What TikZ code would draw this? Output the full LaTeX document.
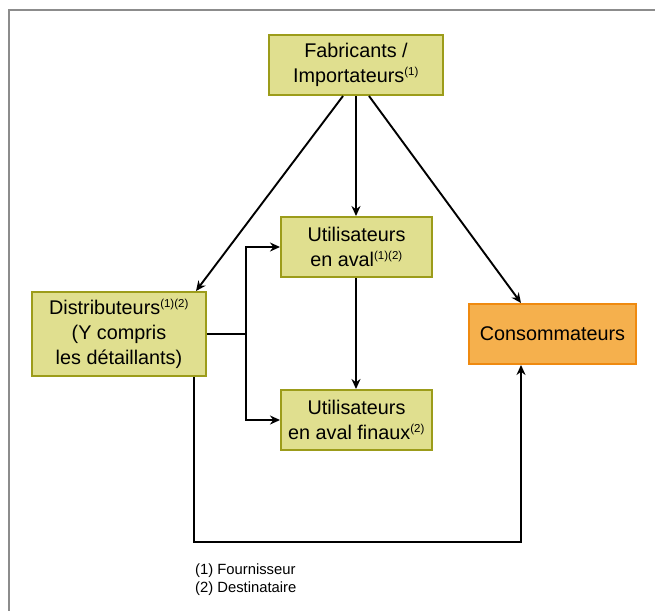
\documentclass[tikz,border=0pt]{standalone}
\usepackage{fontspec}
\setmainfont{Liberation Sans}
\usetikzlibrary{arrows.meta}
\definecolor{boxfill}{HTML}{E0DF8F}
\definecolor{boxline}{HTML}{9C9C1A}
\definecolor{orfill}{HTML}{F5B04D}
\definecolor{orline}{HTML}{EF8A10}
\definecolor{framegray}{HTML}{8C8C8C}
\newcommand{\fn}[1]{\textsuperscript{\fontsize{11.5}{11.5}\selectfont #1}}
\tikzset{
  box/.style={draw=boxline, fill=boxfill, line width=2pt, align=center, inner sep=0pt,
    font=\fontsize{19.8}{25}\selectfont},
  obox/.style={draw=orline, fill=orfill, line width=2pt, align=center, inner sep=0pt,
    font=\fontsize{19.8}{25}\selectfont},
  arr/.style={line width=1.9pt, -{Stealth[length=10pt,width=9pt]}},
  ln/.style={line width=1.9pt},
}
\begin{document}
\begin{tikzpicture}[x=1pt,y=-1pt]
\useasboundingbox (0,0) rectangle (655,610);
\draw[framegray, line width=2.2pt] (9,612) -- (9,10) -- (657,10);
\node[box, minimum width=174pt, minimum height=60pt] (F) at (356,65) {Fabricants /\\Importateurs\fn{(1)}};
\node[box, minimum width=151pt, minimum height=60pt] (U) at (356.5,247) {Utilisateurs\\en aval\fn{(1)(2)}};
\node[box, minimum width=174pt, minimum height=84pt] (D) at (119,334) {Distributeurs\fn{(1)(2)}\\(Y compris\\les détaillants)};
\node[obox, minimum width=167pt, minimum height=60pt] (C) at (552.5,334) {Consommateurs};
\node[box, minimum width=151pt, minimum height=60pt] (UF) at (356.5,420) {Utilisateurs\\en aval finaux\fn{(2)}};
\draw[arr] ([xshift=-13pt]F.south) -- ([xshift=77pt]D.north);
\draw[arr] (F.south) -- ([xshift=-0.5pt]U.north);
\draw[arr] ([xshift=13pt]F.south) -- ([xshift=-31.5pt]C.north);
\draw[arr] ([xshift=-0.5pt]U.south) -- ([xshift=-0.5pt]UF.north);
\draw[ln] (D.east) -- ++(39,0) coordinate (b);
\draw[arr] (b) |- (U.west);
\draw[arr] (b) |- (UF.west);
\draw[arr] ([xshift=75pt]D.south) -- ++(0,165) -| ([xshift=-31.5pt]C.south);
\node[anchor=north west, align=left, inner sep=0pt, font=\fontsize{14.8}{18}\selectfont] (N) at (195,564) {(1) Fournisseur\\(2) Destinataire};
\end{tikzpicture}
\end{document}
